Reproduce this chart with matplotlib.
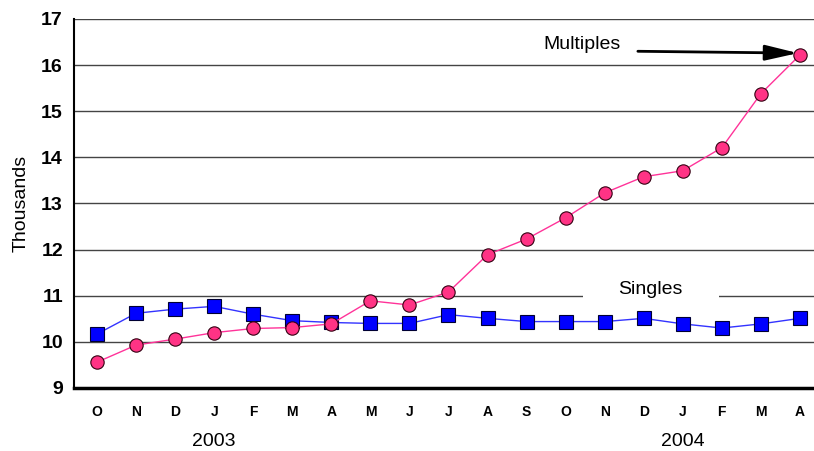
import numpy as np
import matplotlib
matplotlib.use("Agg")
import matplotlib.pyplot as plt

plt.rcParams['font.family'] = ['Liberation Sans', 'DejaVu Sans']

months = ["O", "N", "D", "J", "F", "M", "A", "M", "J", "J", "A", "S",
          "O", "N", "D", "J", "F", "M", "A"]
years = ["2003", "2004"]
year_pos = [3, 15]

multiples = [9.56, 9.93, 10.06, 10.20, 10.29, 10.31, 10.39, 10.89, 10.80, 11.08,
             11.89, 12.23, 12.69, 13.23, 13.58, 13.71, 14.21, 15.38, 16.22]
singles = [10.17, 10.62, 10.71, 10.77, 10.60, 10.46, 10.42, 10.40, 10.40, 10.59,
           10.51, 10.44, 10.44, 10.44, 10.51, 10.39, 10.30, 10.39, 10.51]

x = np.arange(len(months))

fig = plt.figure(figsize=(8.14, 4.51), dpi=100)
ax = fig.add_axes([0.0909, 0.1397, 0.9091, 0.8182])

# grid lines
for v in range(10, 18):
    ax.axhline(v, color='#444444', lw=1.0, zorder=1)

ax.plot(x, singles, color='#3333ff', lw=1.0, marker='s', ms=9.5,
        mfc='#0000ff', mec='#000033', mew=0.8, zorder=3)
ax.plot(x, multiples, color='#ff3399', lw=1.0, marker='o', ms=9.6,
        mfc='#ff3385', mec='#330011', mew=0.8, zorder=4)

ax.set_xlim(-0.59, 18.36)
ax.set_ylim(9, 17)
ax.set_yticks(range(9, 18))
ax.set_yticklabels([str(v) for v in range(9, 18)], fontsize=14, fontweight='bold')
ax.set_xticks(x)
ax.set_xticklabels(months, fontsize=10, fontweight='bold')
ax.tick_params(axis='y', length=0, pad=8)
ax.tick_params(axis='x', length=0, pad=12)

for s in ['top', 'right']:
    ax.spines[s].set_visible(False)
ax.spines['left'].set_linewidth(1.5)
ax.spines['bottom'].set_linewidth(2.5)

ax.set_ylabel("Thousands", fontsize=14, labelpad=8)

for yr, p in zip(years, year_pos):
    ax.text(p, 7.83, yr, ha='center', va='center', fontsize=14)

# annotations
ax.add_patch(plt.Rectangle((12.44, 10.92), 3.48, 0.4, fc='white', ec='none', zorder=1.5))
ax.text(14.16, 11.13, "Singles", ha='center', va='center', fontsize=14, zorder=2)
ax.text(12.43, 16.44, "Multiples", ha='center', va='center', fontsize=14)
ax.annotate("", xy=(17.95, 16.26), xytext=(13.85, 16.30),
            arrowprops=dict(arrowstyle='-|>,head_length=2.0,head_width=0.47',
                            color='black', lw=2.0, shrinkA=0, shrinkB=0), zorder=5)

fig.savefig("out.png", dpi=100)
